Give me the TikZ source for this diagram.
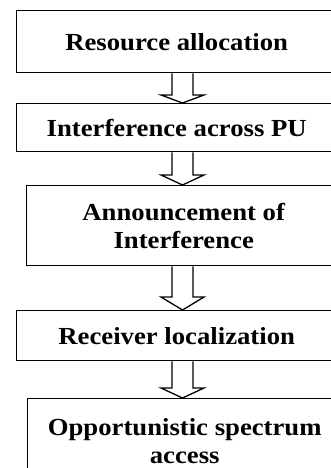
\documentclass[tikz,border=0pt]{standalone}
\usepackage{fontspec}
\setmainfont{Liberation Serif}[FakeStretch=1.09]
\usetikzlibrary{calc}

\tikzset{
  stage/.style={draw, line width=1.4pt, anchor=north west, align=center,
    minimum width=320pt, inner sep=0pt,
    font=\fontsize{24.5}{28}\selectfont\bfseries},
  flow/.style={line width=1.3pt, line join=miter}
}
% hollow block arrow between two stages: from, to, head length
\newcommand{\blockarrow}[3]{%
  \draw[flow] ($(#1.south -| axis)+(-10.5,0)$)
    -- ($(#2.north -| axis)+(-10.5,-#3)$) -- ++(-11,0)
    -- (#2.north -| axis)
    -- ($(#2.north -| axis)+(21.5,-#3)$) -- ++(-11,0)
    -- ($(#1.south -| axis)+(10.5,0)$);
}

\begin{document}
\begin{tikzpicture}[x=1pt, y=-1pt]
\path[use as bounding box, clip] (0,0) rectangle (331,468);
\coordinate (axis) at (182.5,0);

\node[stage, minimum height=62pt] (alloc) at (16,10) {Resource allocation};
\node[stage, minimum height=48pt] (interf) at (16,103) {Interference across PU};
\node[stage, minimum height=80pt, minimum width=314pt] (announce) at (26,185)
  {Announcement of\\Interference};
\node[stage, minimum height=50pt] (recv) at (16,310) {Receiver localization};
\node[stage, minimum height=84pt, minimum width=314pt] (access) at (27,398)
  {Opportunistic spectrum\\access};

\blockarrow{alloc}{interf}{8}
\blockarrow{interf}{announce}{10}
\blockarrow{announce}{recv}{13}
\blockarrow{recv}{access}{10}
\end{tikzpicture}
\end{document}
